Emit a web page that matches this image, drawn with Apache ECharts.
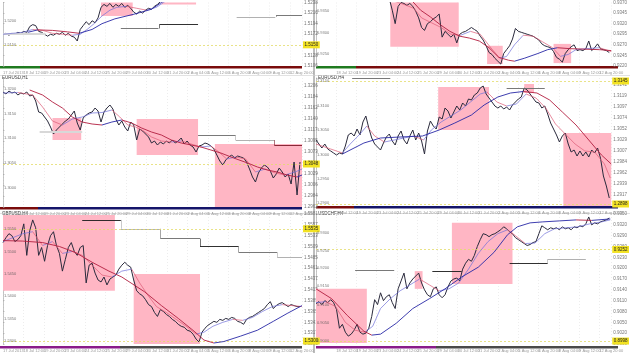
<!DOCTYPE html>
<html>
<head>
<meta charset="utf-8">
<script src="https://cdn.jsdelivr.net/npm/echarts@6/dist/echarts.min.js"></script>
<style>
  html, body { margin: 0; padding: 0; background: #fff; }
  #chart { width: 630px; height: 353px; }
</style>
</head>
<body>
<div id="chart"></div>
<script>
  // x = bar offset (3 per bar), y = pips above the panel's lowest visible level
  const STEP = 3;
  const priceStart = [0, 75, 0, 0, 0, 0];

  const price1 = [33,34,32,34,33,35,34,36,35,41,43,42,36,35,33,31,33,32,34,33,35,32,34,31,30,26,38,42,46,43,47,45,50,61,64,62,65,61,64,62,65,61,63,60,56,54,57,55,58,60,59,62,64,67,70];
  const price2 = [70,58,44,62,66,65,63,65,62,57,50,40,37,44,46,49,51,54,30,36,33,30,33,24,33,35,36,38,40,38,36,31,27,21,14,12,8,5,2,13,17,21,28,39,36,35,34,33,32,31,29,27,23,21,20,19,15,9,7,4,13,17,20,22,16,17,16,18,26,16,19,23,18,17,16,14];
  const price3 = [115,113,116,114,115,112,114,113,115,111,112,106,95,94,90,86,80,73,77,80,83,86,88,92,96,84,77,89,92,94,95,99,96,85,95,99,102,98,88,82,86,80,76,85,82,67,78,76,73,70,64,66,62,65,63,66,64,67,64,66,69,63,66,62,60,55,61,62,64,63,61,58,52,46,42,47,50,52,49,51,50,49,45,38,30,25,34,39,42,40,36,29,33,39,35,30,33,23,45,12,45];
  const price4 = [66,62,58,62,57,55,53,51,53,52,60,71,73,70,77,71,84,90,78,68,62,59,56,63,69,72,65,61,70,75,66,62,70,76,66,73,65,52,75,85,80,77,89,87,98,95,88,94,100,96,103,100,107,106,111,113,118,120,112,108,104,100,98,100,97,99,96,101,104,107,109,118,116,112,108,104,103,98,100,92,83,77,71,64,70,73,62,54,56,50,55,50,54,49,56,53,58,48,30,20,8];
  const price5 = [103,108,112,110,104,106,110,122,90,115,126,118,90,98,84,100,110,114,100,92,74,86,98,103,94,90,98,100,62,80,82,72,65,63,68,60,66,68,70,76,80,83,80,78,65,54,51,49,45,40,38,32,28,35,33,30,28,25,23,20,18,17,14,13,10,5,2,12,16,19,21,23,22,25,24,26,25,27,26,23,22,20,25,27,28,30,32,34,36,40,43,36,39,41,42,40,38,40,39,38,38];
  const price6 = [41,43,40,44,42,45,42,35,16,20,12,8,10,14,20,12,10,11,16,28,45,40,52,44,48,50,42,36,56,64,72,56,62,66,69,72,62,55,50,48,56,58,50,47,50,58,64,66,67,64,76,82,86,84,90,99,106,112,111,109,111,112,114,116,119,117,114,112,108,106,104,102,100,101,103,104,112,120,118,116,118,117,118,116,119,117,118,116,119,118,120,119,122,129,121,123,122,124,125,126,128];

  // fast and slow moving averages, [bar offset, level]
  const fast1 = [[0,33],[10,34],[20,35],[30,38],[40,37],[50,34],[60,33],[70,32],[78,33],[85,38],[92,44],[100,52],[108,58],[115,61],[125,62],[135,60],[145,58],[155,61],[165,68]];
  const slow1 = [[25,35],[35,37.5],[50,37],[65,35.5],[77,34],[90,38],[100,44],[113,49],[133,54],[150,59],[160,66],[170,72]];
  const fast2 = [[78,68],[90,64],[100,60],[108,50],[118,45],[128,40],[138,33],[148,32],[158,36],[168,33],[178,20],[188,8],[195,10],[203,22],[212,32],[222,31],[232,25],[242,19],[250,10],[258,12],[266,17],[276,18],[290,19],[302,15]];
  const slow2 = [[98,68],[107,58],[117,51],[127,43],[137,36],[147,31],[157,29],[167,26],[177,19],[187,9],[197,6],[203,5],[213,8],[227,13],[237,17],[247,19],[260,18],[275,17.5],[290,17],[302,16]];
  const fast3 = [[0,114],[15,114.5],[30,112],[40,100],[50,86],[60,82],[70,88],[80,90],[90,94],[100,94.5],[110,97],[118,90],[126,82],[134,80],[142,76],[150,70],[160,66],[170,65],[180,66],[190,63],[200,60],[210,61],[218,55],[226,48],[235,50],[245,48],[255,35],[265,38],[275,34],[285,32],[295,35],[302,38]];
  const slow3 = [[27,117],[40,112],[50,105],[60,99],[70,90],[80,85],[90,83],[100,82],[110,85],[120,87],[130,84],[140,79],[150,75],[160,72],[170,67],[180,64],[190,62],[200,60],[210,57],[220,54],[233,49],[247,44],[257,40],[267,37],[277,35],[287,32],[297,30],[302,32]];
  const fast4 = [[0,62],[15,57],[27,53],[35,62],[45,72],[52,80],[60,70],[70,64],[80,66],[90,68],[100,70],[110,66],[118,76],[128,84],[138,90],[148,96],[158,104],[168,112],[175,114],[185,104],[195,100],[205,102],[215,112],[225,108],[235,98],[245,82],[255,72],[265,62],[275,55],[285,54],[295,42],[301,28]];
  const slow4 = [[27,52],[49,63],[66,68],[86,69],[109,70],[126,76],[142,83],[159,91],[172,101],[186,109],[199,113],[212,114.5],[226,113],[239,106],[252,94],[266,81],[279,66],[292,51],[302,42]];
  const fast5 = [[0,104],[10,108],[20,112],[30,114],[40,100],[50,104],[60,92],[70,94],[80,90],[90,80],[100,70],[110,68],[120,74],[130,76],[138,62],[146,50],[155,38],[165,32],[175,25],[185,18],[195,10],[203,12],[212,18],[222,22],[232,25],[242,24],[252,27],[262,33],[272,38],[282,40],[292,39],[302,38]];
  const slow5 = [[0,105],[20,104.5],[40,103],[57,99],[73,93],[90,83],[107,74],[120,68],[143,53],[160,39],[177,26],[193,13],[203,4],[213,1],[223,2.5],[240,8],[257,14],[273,23],[287,31],[302,39]];
  const fast6 = [[0,42],[10,43],[20,38],[30,22],[40,14],[50,12],[58,18],[66,36],[76,46],[86,54],[96,60],[106,66],[116,60],[126,54],[136,56],[146,62],[156,76],[166,92],[176,104],[186,112],[196,116],[204,110],[214,102],[224,102.5],[234,112],[244,117],[256,118],[268,119],[280,122],[292,124],[301,126]];
  const slow6 = [[0,56],[16,46],[32,29],[49,13],[57,9],[66,10],[82,21],[99,36],[116,46],[132,56],[149,68],[166,78],[182,93],[196,111],[206,119],[219,123],[232,124],[249,125],[266,126],[282,125.5],[301,127]];

  // shaded zones [x0, x1, low, high]
  const zones1 = [[99,131,52,70],[160,195,64,70]];
  const zones2 = [[76,146,20,70],[175,191,2,21],[243,261,3,23]];
  const zones3 = [[50,79,67,89],[135,197,52,88],[214,302,0,63]];
  const zones4 = [[125,177,76,119],[213,223,113,122],[253,302,0,73]];
  const zones5 = [[0,113,54,131],[132,199,0,71]];
  const zones6 = [[0,52,1,56],[101,109,56,74],[139,201,61,123]];

  // stepped levels [x0, x1, level, tone]
  const steps1 = [[0,43,33,3],[119,157,39,1],[158,197,43,0],[236,275,51,2],[276,302,53,1]];
  const steps2 = [];
  const steps3 = [[37,80,75,3],[197,235,72,1],[235,274,67,2],[274,302,62,4]];
  const steps4 = [[37,76,128,1],[195,234,118,1]];
  const steps5 = [[80,119,126,0],[119,159,117,2],[159,199,107,1],[199,238,99,0],[238,277,93,1],[277,302,88,2]];
  const steps6 = [[40,80,75,1],[119,149,74,0],[198,237,82,0],[237,276,86,2]];

  // dashed yellow levels, last price and red levels [level, text]
  const yellow1 = [[22,'1.5150']];
  const yellow2 = [];
  const yellow3 = [[43,'1.3048']];
  const yellow4 = [[125,'1.3145'],[2,'1.2898']];
  const yellow5 = [[117,'1.5535'],[3,'1.5300']];
  const yellow6 = [[96,'0.9252'],[3,'0.8998']];
  const lastTags = [[], [], [], [], [[38,'1.5378']], [[128,'0.9338']]];
  const redTags = [[], [], [], [[91,'1.3090']], [], [[82,'0.9210']]];

  // in-chart level labels [level, text]
  const left1 = [[47,'1.5200'],[22,'1.5150']];
  const left2 = [[57,'0.9350'],[34,'0.9300'],[13,'0.9250']];
  const left3 = [[118,'1.3200'],[93,'1.3150'],[69,'1.3100'],[44,'1.3050'],[19,'1.3000']];
  const left4 = [[125,'1.3150'],[100,'1.3100'],[76,'1.3050'],[51,'1.3000'],[27,'1.2950'],[3,'1.2900']];
  const left5 = [[117,'1.5550'],[94,'1.5500'],[71,'1.5450'],[49,'1.5400'],[26,'1.5350'],[3,'1.5300']];
  const left6 = [[113,'0.9300'],[95,'0.9250'],[77,'0.9200'],[59,'0.9150'],[40,'0.9100'],[21,'0.9050'],[3,'0.9000']];

  // price scale tick labels (every 11 pips of panel height)
  const right1 = ['1.5106','1.5128','1.5150','1.5172','1.5194','1.5216','1.5238'];
  const right2 = ['0.9220','0.9245','0.9270','0.9295','0.9320','0.9345','0.9370'];
  const right3 = ['1.2962','1.2984','1.3006','1.3029','1.3051','1.3073','1.3095','1.3117','1.3140','1.3162','1.3184','1.3206'];
  const right4 = ['1.2894','1.2917','1.2939','1.2962','1.2984','1.3007','1.3029','1.3052','1.3074','1.3097','1.3119','1.3142'];
  const right5 = ['1.5293','1.5317','1.5341','1.5365','1.5389','1.5413','1.5437','1.5461','1.5485','1.5509','1.5533','1.5557','1.5581'];
  const right6 = ['0.8990','0.9020','0.9050','0.9080','0.9110','0.9140','0.9170','0.9200','0.9230','0.9260','0.9290','0.9320','0.9350'];

  const dateLabels = ['17 Jul 2013','18 Jul 12:00','19 Jul 20:00','23 Jul 04:00','24 Jul 12:00','25 Jul 20:00','29 Jul 04:00','30 Jul 12:00','31 Jul 20:00','2 Aug 04:00','5 Aug 12:00','6 Aug 20:00','8 Aug 04:00','9 Aug 12:00','12 Aug 20:00'];
  const symbols = ['GBPUSD,H1','USDCHF,H1','EURUSD,H1','EURUSD,H4','GBPUSD,H4','USDCHF,H4'];

  const prices = [price1, price2, price3, price4, price5, price6];
  const fasts = [fast1, fast2, fast3, fast4, fast5, fast6];
  const slows = [slow1, slow2, slow3, slow4, slow5, slow6];
  const zones = [zones1, zones2, zones3, zones4, zones5, zones6];
  const steps = [steps1, steps2, steps3, steps4, steps5, steps6];
  const yellows = [yellow1, yellow2, yellow3, yellow4, yellow5, yellow6];
  const lefts = [left1, left2, left3, left4, left5, left6];
  const rights = [right1, right2, right3, right4, right5, right6];

  // layout
  const W = 302;
  const X_INT = 20.7;
  const Y_INT = 11;
  const panels = [
    { left: 0,   top: 0,   h: 66,  split: 40,  strip: ['#1f7a1f', '#7a0c0c'] },
    { left: 316, top: 0,   h: 66,  split: 40,  strip: ['#1f7a1f', '#7a0c0c'] },
    { left: 0,   top: 78,  h: 129, split: 38,  strip: ['#7a0c0c', '#15156a'] },
    { left: 316, top: 78,  h: 128, split: 38,  strip: ['#7a0c0c', '#15156a'] },
    { left: 0,   top: 214, h: 132, split: 120, strip: ['#8a1c8a', '#4a4a4a'] },
    { left: 316, top: 214, h: 132, split: 120, strip: ['#8a1c8a', '#4a4a4a'] }
  ];
  const tones = ['#1a1a1a', '#6a6a6a', '#a8a8a8', '#d8d8d8', '#7a1828'];
  const FONT = 'Liberation Sans';

  // red while falling, blue while rising
  function splitSlope(pts) {
    const up = [], down = [];
    for (let i = 0; i < pts.length - 1; i++) {
      const target = pts[i + 1][1] > pts[i][1] ? up : down;
      const last = target[target.length - 1];
      if (!last || last[0] !== pts[i][0] || last[1] !== pts[i][1]) {
        if (target.length) target.push([pts[i][0], null]);
        target.push(pts[i]);
      }
      target.push(pts[i + 1]);
    }
    return [up, down];
  }

  function nearTick(v, step) {
    return Math.abs(v / step - Math.round(v / step)) < 0.01;
  }

  const option = {
    animation: false,
    textStyle: { fontFamily: FONT },
    grid: [], xAxis: [], yAxis: [], series: [], graphic: []
  };

  panels.forEach((p, k) => {
    option.grid.push({ left: p.left, top: p.top, width: W, height: p.h });
    option.xAxis.push({
      type: 'value', gridIndex: k, min: 0, max: W, interval: X_INT,
      axisLine: { show: false }, axisTick: { show: false },
      splitLine: { show: true, lineStyle: { color: '#e0e0e0', width: 0.6, type: [1, 2] } },
      axisLabel: {
        margin: 5, fontSize: 4, color: '#999', align: 'left',
        formatter: v => nearTick(v, X_INT) ? (dateLabels[Math.round(v / X_INT)] || '') : ''
      }
    });
    const labels = rights[k];
    option.yAxis.push({
      type: 'value', gridIndex: k, position: 'right', min: 0, max: p.h, interval: Y_INT,
      axisLine: { show: true, lineStyle: { color: '#a0a0a0', width: 0.6 } },
      axisTick: { show: true, length: 1.5, lineStyle: { color: '#a0a0a0', width: 0.6 } },
      splitLine: { show: false },
      axisLabel: {
        margin: 2, fontSize: 4.5, color: '#777',
        formatter: v => nearTick(v, Y_INT) ? (labels[Math.round(v / Y_INT)] || '') : ''
      }
    });

    const marks = [];
    steps[k].forEach((s, i) => {
      const col = tones[s[3]];
      const w = s[3] === 3 ? 2 : 0.9;
      marks.push([{ coord: [s[0], s[2]], lineStyle: { color: col, width: w, type: 'solid' } },
                  { coord: [s[1], s[2]], lineStyle: { color: col, width: w, type: 'solid' } }]);
      const prev = steps[k][i - 1];
      if (prev && Math.abs(prev[1] - s[0]) <= 1) {
        marks.push([{ coord: [s[0], prev[2]], lineStyle: { color: col, width: 0.6, type: 'solid' } },
                    { coord: [s[0], s[2]], lineStyle: { color: col, width: 0.6, type: 'solid' } }]);
      }
    });
    const tag = (lvl, text, bg, fg, line) => ({
      yAxis: lvl,
      lineStyle: line || { opacity: 0 },
      label: { show: true, position: 'end', distance: 1, formatter: text, fontSize: 4.5,
               color: fg, backgroundColor: bg, padding: [1, 1.5], fontFamily: FONT }
    });
    yellows[k].forEach(l => marks.push(tag(l[0], l[1], '#f2e222', '#222',
      { color: '#e4dc6a', width: 0.8, type: [2, 2], opacity: 1 })));
    redTags[k].forEach(l => marks.push(tag(l[0], l[1], '#d8283a', '#fff')));
    lastTags[k].forEach(l => marks.push(tag(l[0], l[1], '#111', '#fff')));

    option.series.push({
      type: 'line', xAxisIndex: k, yAxisIndex: k, z: 4,
      symbol: 'none', showSymbol: false,
      lineStyle: { color: '#2a2a3c', width: 1 },
      data: prices[k].map((v, i) => [priceStart[k] + i * STEP, v]),
      markArea: {
        silent: true,
        itemStyle: { color: '#ffb6c4' },
        data: zones[k].map(z => [{ coord: [z[0], Math.max(0, z[2])] }, { coord: [z[1], Math.min(p.h, z[3])] }])
      },
      markLine: {
        silent: true, symbol: ['none', 'none'], animation: false,
        label: { show: false },
        data: marks
      }
    });

    const [fu, fd] = splitSlope(fasts[k]);
    const [su, sd] = splitSlope(slows[k]);
    [[fu, '#7070d8', 0.7], [fd, '#dc5a76', 0.7], [su, '#2828a6', 0.9], [sd, '#b21e40', 0.9]]
      .forEach(([d, c, w]) => option.series.push({
        type: 'line', xAxisIndex: k, yAxisIndex: k, z: 5,
        symbol: 'none', showSymbol: false, connectNulls: false,
        lineStyle: { color: c, width: w }, data: d
      }));

    option.series.push({
      type: 'scatter', xAxisIndex: k, yAxisIndex: k, z: 6,
      symbolSize: 0.1, silent: true,
      data: lefts[k].map(t => [1, t[0], t[1]]),
      label: { show: true, position: 'right', distance: 0, fontSize: 4, color: '#555',
               formatter: d => d.data[2] }
    });

    option.graphic.push(
      { type: 'rect', shape: { x: p.left, y: p.top + p.h, width: p.split, height: 2.5 }, style: { fill: p.strip[0] } },
      { type: 'rect', shape: { x: p.left + p.split, y: p.top + p.h, width: W - p.split, height: 2.5 }, style: { fill: p.strip[1] } }
    );
    if (p.top > 0) {
      option.graphic.push({ type: 'text', x: p.left + 2, y: p.top - 2.5,
        style: { text: symbols[k], fontSize: 4.5, fill: '#333', fontFamily: FONT } });
    }
  });

  option.graphic.push(
    { type: 'line', shape: { x1: 314, y1: 0, x2: 314, y2: 353 }, style: { stroke: '#7a7a7a', lineWidth: 1 } },
    { type: 'line', shape: { x1: 0, y1: 75.5, x2: 630, y2: 75.5 }, style: { stroke: '#cfcfcf', lineWidth: 0.6 } },
    { type: 'line', shape: { x1: 0, y1: 213.5, x2: 630, y2: 213.5 }, style: { stroke: '#cfcfcf', lineWidth: 0.6 } }
  );

  const chart = echarts.init(document.getElementById('chart'));
  chart.setOption(option);
</script>
</body>
</html>
